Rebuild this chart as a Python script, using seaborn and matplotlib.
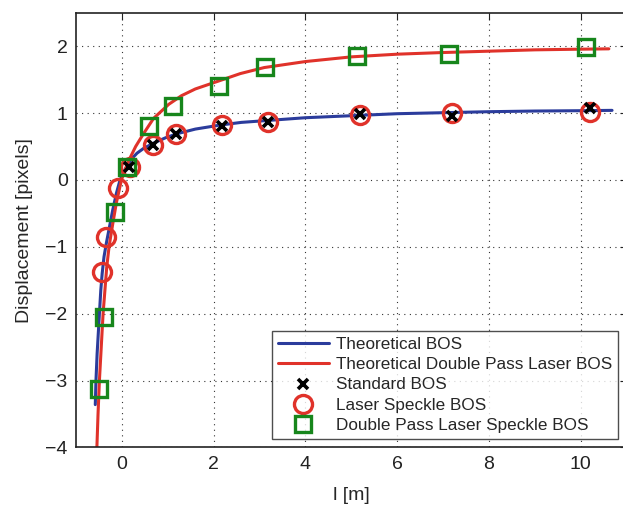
import matplotlib
matplotlib.use("Agg")
import matplotlib.pyplot as plt
import seaborn as sns

# 理論曲線（図から読み取った点）
blue_x = [-0.58, -0.565, -0.54, -0.515, -0.49, -0.46, -0.43, -0.39, -0.34, -0.27, -0.20, -0.12,
          -0.04, 0.04, 0.12, 0.22, 0.33, 0.47, 0.69, 0.95, 1.2, 1.6, 2.14, 2.6, 3.2, 4.0, 5.0,
          6.0, 7.0, 8.0, 9.0, 10.0, 10.68]
blue_y = [-3.36, -3.0, -2.6, -2.3, -2.0, -1.65, -1.4, -1.15, -0.95, -0.7, -0.45, -0.2,
          0.0, 0.12, 0.22, 0.32, 0.40, 0.47, 0.55, 0.63, 0.69, 0.76, 0.82, 0.86, 0.89, 0.93, 0.96,
          0.99, 1.005, 1.02, 1.03, 1.035, 1.04]

red_x = [-0.545, -0.52, -0.49, -0.45, -0.41, -0.37, -0.33, -0.28, -0.20, -0.12, -0.01, 0.07,
         0.15, 0.30, 0.47, 0.69, 1.02, 1.3, 1.6, 2.07, 2.58, 3.1, 4.0, 5.0, 6.0, 7.0, 8.0, 9.0,
         10.0, 10.61]
red_y = [-4.0, -3.5, -3.0, -2.5, -2.0, -1.65, -1.3, -1.0, -0.66, -0.34, 0.0, 0.15,
         0.29, 0.50, 0.69, 0.92, 1.13, 1.26, 1.36, 1.47, 1.59, 1.68, 1.77, 1.84, 1.88, 1.905, 1.925, 1.945,
         1.955, 1.96]

# 測定点
std_x = [0.15, 0.67, 1.17, 2.18, 3.18, 5.19, 7.19, 10.19]
std_y = [0.19, 0.52, 0.68, 0.81, 0.87, 0.99, 0.95, 1.07]

laser_x = [-0.43, -0.35, -0.09, 0.18, 0.67, 1.17, 2.18, 3.18, 5.19, 7.19, 10.19]
laser_y = [-1.38, -0.86, -0.12, 0.19, 0.52, 0.69, 0.82, 0.86, 0.97, 1.0, 1.01]

dp_x = [-0.49, -0.39, -0.15, 0.12, 0.60, 1.11, 2.11, 3.11, 5.12, 7.12, 10.12]
dp_y = [-3.13, -2.05, -0.48, 0.19, 0.81, 1.11, 1.40, 1.69, 1.85, 1.88, 1.99]

blue = '#2b3c9c'
red = '#e0322a'
green = '#17861c'

sns.set_style("white")
plt.rcParams['font.family'] = ['Liberation Sans', 'DejaVu Sans']

fig = plt.figure(figsize=(6.23, 5.09), dpi=100)
ax = fig.add_axes([0.122, 0.121, 0.884, 0.854])

sns.lineplot(x=blue_x, y=blue_y, sort=False, estimator=None, color=blue, linewidth=2.2,
             label='Theoretical BOS', ax=ax)
sns.lineplot(x=red_x, y=red_y, sort=False, estimator=None, color=red, linewidth=2.2,
             label='Theoretical Double Pass Laser BOS', ax=ax)
ax.plot(std_x, std_y, linestyle='none', marker='x', markersize=7, markeredgewidth=2.6,
        color='black', label='Standard BOS', zorder=4)
ax.plot(laser_x, laser_y, linestyle='none', marker='o', markersize=13, markeredgewidth=2.4,
        markerfacecolor='none', markeredgecolor=red, label='Laser Speckle BOS', zorder=3)
ax.plot(dp_x, dp_y, linestyle='none', marker='s', markersize=11, markeredgewidth=2.4,
        markerfacecolor='none', markeredgecolor=green, label='Double Pass Laser Speckle BOS', zorder=3)

ax.set_xlim(-1, 11)
ax.set_ylim(-4, 2.5)
ax.set_xticks([0, 2, 4, 6, 8, 10])
ax.set_yticks([-4, -3, -2, -1, 0, 1, 2])
ax.set_yticklabels(['\u22124', '\u22123', '\u22122', '\u22121', '0', '1', '2'])
ax.set_xlabel('l [m]', fontsize=14, labelpad=10)
ax.set_ylabel('Displacement [pixels]', fontsize=14, labelpad=9)
ax.tick_params(direction='in', length=5, width=0.8, top=True, right=True,
               labelsize=14, colors='#222222', pad=6)
ax.grid(True, color='#333333', linestyle=(0, (1, 4)), linewidth=0.8)
for s in ax.spines.values():
    s.set_color('#222222')
    s.set_linewidth(1.2)

leg = ax.legend(loc='lower right', fontsize=12.3, frameon=True, fancybox=False,
                edgecolor='#222222', handlelength=3.0, labelspacing=0.3,
                borderpad=0.35, handletextpad=0.4, borderaxespad=0,
                bbox_to_anchor=(0.984, 0.02))
leg.get_frame().set_linewidth(1.0)

fig.savefig('out.png', dpi=100)
